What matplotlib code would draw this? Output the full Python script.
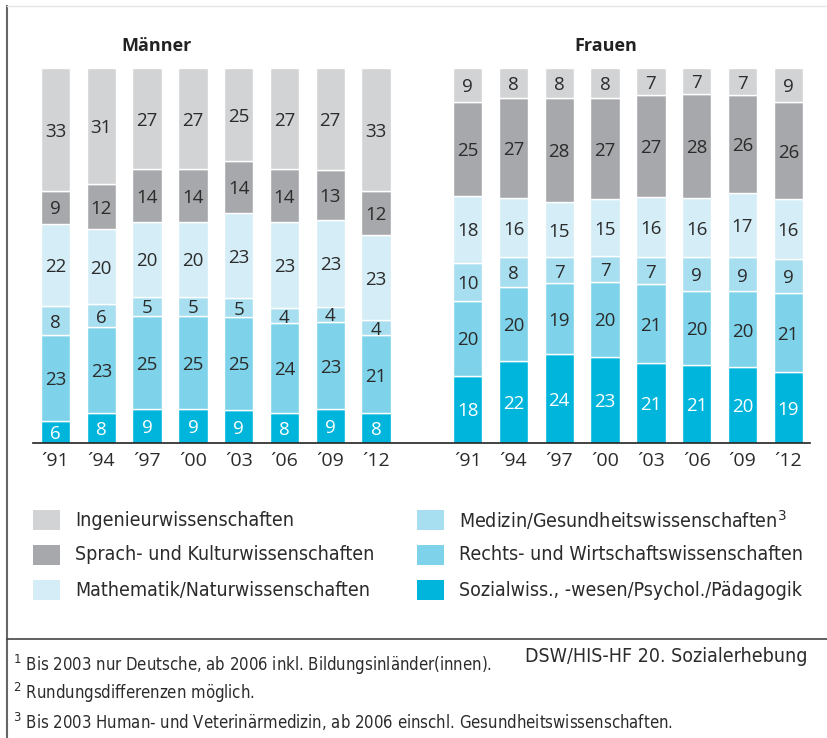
import matplotlib.pyplot as plt
import numpy as np
from matplotlib.lines import Line2D
from matplotlib.patches import Rectangle

years = ["´91", "´94", "´97", "´00", "´03", "´06", "´09", "´12"]

# Anteile in %, von unten nach oben
sozial_m = [6, 8, 9, 9, 9, 8, 9, 8]
recht_m = [23, 23, 25, 25, 25, 24, 23, 21]
medizin_m = [8, 6, 5, 5, 5, 4, 4, 4]
mathe_m = [22, 20, 20, 20, 23, 23, 23, 23]
sprach_m = [9, 12, 14, 14, 14, 14, 13, 12]
ing_m = [33, 31, 27, 27, 25, 27, 27, 33]

sozial_f = [18, 22, 24, 23, 21, 21, 20, 19]
recht_f = [20, 20, 19, 20, 21, 20, 20, 21]
medizin_f = [10, 8, 7, 7, 7, 9, 9, 9]
mathe_f = [18, 16, 15, 15, 16, 16, 17, 16]
sprach_f = [25, 27, 28, 27, 27, 28, 26, 26]
ing_f = [9, 8, 8, 8, 7, 7, 7, 9]

labels = ["Sozialwiss., -wesen/Psychol./Pädagogik",
          "Rechts- und Wirtschaftswissenschaften",
          "Medizin/Gesundheitswissenschaften$^{3}$",
          "Mathematik/Naturwissenschaften",
          "Sprach- und Kulturwissenschaften",
          "Ingenieurwissenschaften"]
colors = ["#00b5dc", "#7ed3ea", "#a8dff0", "#d4edf7", "#a7a8ab", "#d2d3d5"]

plt.rcParams['font.family'] = ['Open Sans', 'DejaVu Sans']

W, H = 828, 738
fig = plt.figure(figsize=(W / 100, H / 100), dpi=100)

# pixel -> data mapping for the bar axes
pitch = 45.8
x0 = 55.5
base_px, top_px = 443, 68
ax = fig.add_axes([0, (H - base_px) / H, 1, (base_px - top_px) / H])
ax.set_xlim((0 - x0) / pitch, (W - x0) / pitch)
ax.set_ylim(0, 100)
ax.axis('off')

def draw_group(pos, series):
    data = np.array(series, dtype=float)
    norm = data / data.sum(axis=0) * 100
    bottom = np.zeros(len(pos))
    for k in range(len(series)):
        ax.bar(pos, norm[k], bottom=bottom, width=0.64, color=colors[k],
               edgecolor='white', linewidth=1.0)
        for i, p in enumerate(pos):
            ax.text(p, bottom[i] + norm[k][i] / 2 - 0.6, str(series[k][i]),
                    ha='center', va='center', fontsize=13.5,
                    color='white' if k == 0 else '#2b2b2b')
        bottom += norm[k]
    for i, p in enumerate(pos):
        ax.text(p, -2.4, years[i], ha='center', va='top', fontsize=14,
                color='#2b2b2b')

pos_m = np.arange(8)
pos_f = np.arange(8) + 9
draw_group(pos_m, [sozial_m, recht_m, medizin_m, mathe_m, sprach_m, ing_m])
draw_group(pos_f, [sozial_f, recht_f, medizin_f, mathe_f, sprach_f, ing_f])

ax.plot([(33 - x0) / pitch, (810 - x0) / pitch], [0, 0], color='#222222',
        lw=1.2, clip_on=False)

fig.text(157 / W, 1 - 46 / H, "Männer", ha='center', va='center',
         fontsize=13, fontweight='bold', color='#222222')
fig.text(606 / W, 1 - 46 / H, "Frauen", ha='center', va='center',
         fontsize=13, fontweight='bold', color='#222222')

# legend, drawn by hand in two columns
leg_font = ['DejaVu Sans']
order_left = [5, 4, 3]
order_right = [2, 1, 0]
rows_y = [520, 555, 590]
for col_x, order in [(33, order_left), (417, order_right)]:
    for ry, k in zip(rows_y, order):
        fig.patches.append(Rectangle((col_x / W, 1 - (ry + 10) / H), 27 / W, 20 / H,
                                     transform=fig.transFigure,
                                     facecolor=colors[k], edgecolor='none'))
        fig.text((col_x + 42) / W, 1 - ry / H, labels[k], ha='left',
                 va='center', fontsize=14, color='#2b2b2b', family=leg_font,
                 fontstretch='condensed')

# frame lines
fig.add_artist(Line2D([7 / W, 7 / W], [0, 1 - 6 / H], transform=fig.transFigure,
                      color='#666666', lw=1.5))
fig.add_artist(Line2D([7 / W, 1], [1 - 6 / H, 1 - 6 / H], transform=fig.transFigure,
                      color='#e6e6e6', lw=1))
fig.add_artist(Line2D([7 / W, 1], [1 - 639 / H, 1 - 639 / H],
                      transform=fig.transFigure, color='#444444', lw=1.2))

fig.text(808 / W, 1 - 657 / H, "DSW/HIS-HF 20. Sozialerhebung", ha='right',
         va='center', fontsize=14, color='#2b2b2b', family=leg_font,
         fontstretch='condensed')
notes = ["$^{1}$ Bis 2003 nur Deutsche, ab 2006 inkl. Bildungsinländer(innen).",
         "$^{2}$ Rundungsdifferenzen möglich.",
         "$^{3}$ Bis 2003 Human- und Veterinärmedizin, ab 2006 einschl. Gesundheitswissenschaften."]
for y, t in zip([665, 693, 722], notes):
    fig.text(13 / W, 1 - y / H, t, ha='left', va='center', fontsize=12,
             color='#2b2b2b', family=leg_font, fontstretch='condensed')

fig.savefig("out.png", dpi=100, facecolor='white')
